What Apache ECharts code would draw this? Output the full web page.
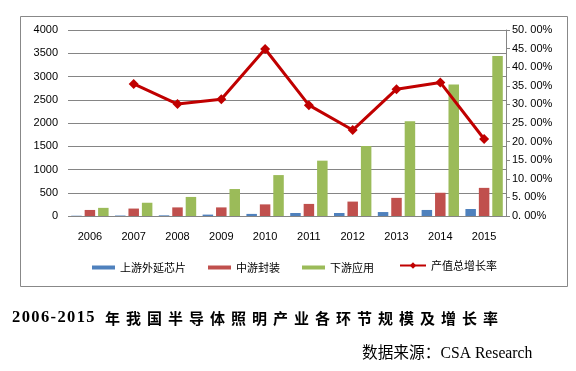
<!DOCTYPE html>
<html><head><meta charset="utf-8">
<script src="https://cdn.jsdelivr.net/npm/echarts@6/dist/echarts.min.js"></script>
<style>html,body{margin:0;padding:0;background:#fff}#c{width:576px;height:371px}</style>
</head><body><div id="c"></div>
<script>
const years = ['2006','2007','2008','2009','2010','2011','2012','2013','2014','2015'];
const upstream = [6, 10, 14, 30, 45, 65, 65, 85, 130, 150];
const midstream = [130, 160, 185, 185, 250, 260, 310, 390, 500, 605];
const downstream = [175, 285, 410, 580, 880, 1190, 1505, 2040, 2830, 3440];
const growth = [null, 0.355, 0.301, 0.314, 0.449, 0.298, 0.231, 0.341, 0.359, 0.207];
const seriesNames = ['上游外延芯片', '中游封装', '下游应用', '产值总增长率'];
const titleYears = '2006-2015';
const titleRest = '年我国半导体照明产业各环节规模及增长率';
const sourceText = '数据来源：CSA Research';

const chart = echarts.init(document.getElementById('c'));
const axisFont = {fontFamily: 'Liberation Sans, Noto Sans CJK SC', fontSize: 11, color: '#000'};
const legendText = {fontFamily: 'Noto Sans CJK SC', fontSize: 11, color: '#000'};
chart.setOption({
  backgroundColor: '#fff',
  animation: false,
  grid: {left: 68, right: 70, top: 30, bottom: 155},
  legend: [{
    data: seriesNames.slice(0,3), left: 92, top: 262, padding: 0, itemWidth: 23, itemHeight: 4, itemGap: 22,
    icon: 'rect', textStyle: legendText
  },{
    data: [seriesNames[3]], left: 399, top: 260, padding: 0, itemWidth: 26, itemHeight: 8,
    textStyle: legendText
  }],
  graphic: [
    {type: 'rect', shape: {x: 20.5, y: 16.5, width: 547, height: 270}, style: {fill: 'none', stroke: '#888', lineWidth: 1}, z: -1},
    {type: 'text', left: 12, top: 309, style: {
      text: '{a|' + titleYears.split('').join('\u200A') + '}{b|\u2002\u2009' + titleRest.split('').join('\u2009\u2009') + '}',
      rich: {
        a: {font: 'bold 16.5px "Liberation Serif"', fill: '#000', verticalAlign: 'bottom'},
        b: {font: 'bold 15px "Noto Sans CJK SC"', fill: '#000', verticalAlign: 'bottom'}
      }
    }},
    {type: 'text', left: 362, top: 346, style: {text: sourceText, font: '15.7px "Liberation Serif", "Noto Sans CJK SC"', fill: '#000'}}
  ],
  xAxis: {
    type: 'category', data: years,
    axisLine: {show: false}, axisTick: {show: false},
    axisLabel: Object.assign({margin: 15}, axisFont)
  },
  yAxis: [{
    type: 'value', min: 0, max: 4000, interval: 500,
    axisLine: {show: false}, axisTick: {show: false},
    axisLabel: Object.assign({margin: 10, formatter: v => String(v)}, axisFont),
    splitLine: {lineStyle: {color: '#858585', width: 1}}
  },{
    type: 'value', min: 0, max: 0.5, interval: 0.05,
    axisLine: {show: true, lineStyle: {color: '#858585'}},
    axisTick: {show: true, length: 4, inside: false, lineStyle: {color: '#858585'}},
    axisLabel: Object.assign({margin: 6, formatter: v => { const s = (v*100).toFixed(2); const p = s.split('.'); return p[0] + '. ' + p[1] + '%'; }}, axisFont),
    splitLine: {show: false}
  }],
  series: [
    {name: seriesNames[0], type: 'bar', data: upstream, barWidth: 10.5, barGap: '28%', itemStyle: {color: '#4F81BD'}},
    {name: seriesNames[1], type: 'bar', data: midstream, barWidth: 10.5, barGap: '28%', itemStyle: {color: '#C0504D'}},
    {name: seriesNames[2], type: 'bar', data: downstream, barWidth: 10.5, barGap: '28%', itemStyle: {color: '#9BBB59'}},
    {name: seriesNames[3], type: 'line', yAxisIndex: 1, data: growth, symbol: 'diamond', symbolSize: 10,
     lineStyle: {color: '#C00000', width: 3}, itemStyle: {color: '#C00000'}, z: 5}
  ]
});
</script></body></html>
